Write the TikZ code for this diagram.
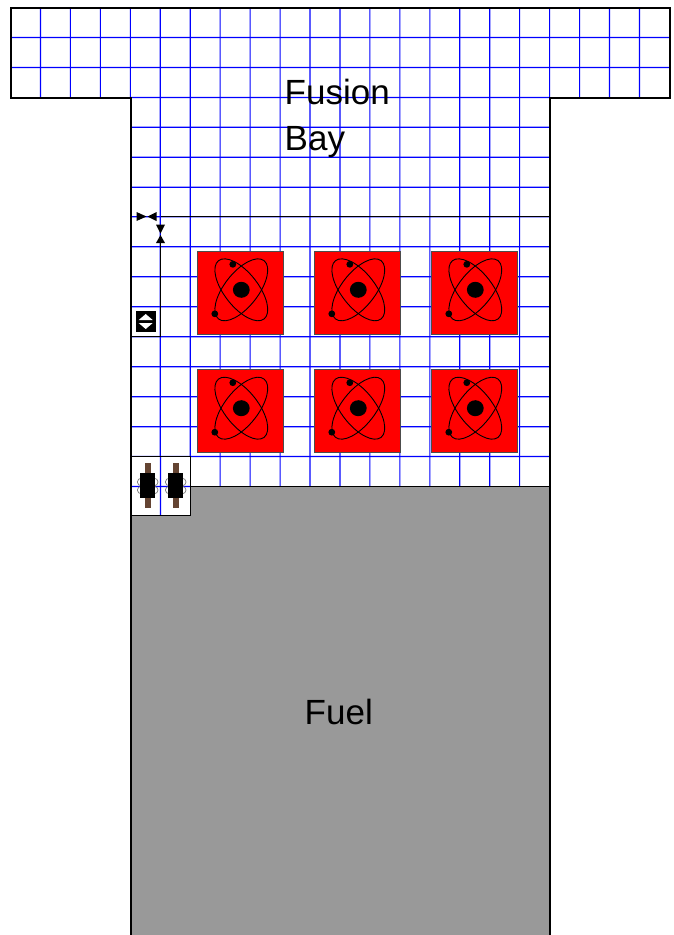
\documentclass[tikz,border=0pt]{standalone}
\usepackage{fontspec}
\setmainfont{Liberation Sans}
\definecolor{gridblue}{RGB}{0,0,255}
\definecolor{fuelgray}{RGB}{153,153,153}
\definecolor{rod}{RGB}{100,68,50}
\definecolor{coil}{RGB}{120,120,120}
\tikzset{
  gridline/.style={gridblue,line width=1.1pt},
  wall/.style={black,line width=2pt},
  thin wall/.style={black,line width=1.1pt},
  label text/.style={font=\fontsize{35}{46}\selectfont,inner sep=0pt,anchor=base west,align=left},
  reactor box/.style={fill=red,draw=black!70,line width=0.8pt},
  orbit/.style={draw=black,line width=0.9pt},
  tip/.style={fill=black,draw=none},
}
\newcommand{\atomcell}[3]{%
  \begin{scope}[shift={(#1,#2)}]
    \node[reactor box,minimum width=86pt,minimum height=83pt,inner sep=0pt,anchor=north west] (#3) at (0,0) {};
    \draw[orbit] (44,39) ellipse[x radius=37,y radius=17,rotate=52];
    \draw[orbit] (44,39) ellipse[x radius=37,y radius=17,rotate=-52];
    \fill (44,39) ellipse[x radius=8.4,y radius=8];
    \fill (35.5,13.5) circle[radius=3.4];
    \fill (17.5,63) circle[radius=3.4];
  \end{scope}}
\newcommand{\pump}[1]{%
  \begin{scope}[shift={(#1,0)}]
    \draw[coil,line width=0.7pt] (-6.5,482) circle[radius=3.8] (-6.5,490) circle[radius=3.8] (6.5,482) circle[radius=3.8] (6.5,490) circle[radius=3.8];
    \fill[rod] (-3,463) rectangle (3,508);
    \fill[black] (-7.3,473) rectangle (7.3,498);
  \end{scope}}
\begin{document}
\begin{tikzpicture}[x=1pt,y=-1pt]
\useasboundingbox (0,0) rectangle (674,935);
\fill[white] (0,0) rectangle (674,935);
% blue grid (a hair off axis so that the lines keep their true positions)
\foreach \i in {1,...,21}{\pgfmathsetmacro{\gx}{10.5+29.95*\i}\pgfmathsetmacro{\hx}{\gx+0.03}\draw[gridline] (\gx,7.5) -- (\hx,486.5);}
\foreach \y in {37.5,67.5}{\pgfmathsetmacro{\hy}{\y+0.03}\draw[gridline] (10.5,\y) -- (669.5,\hy);}
\foreach \y in {97.5,127.2,157.2,187.2,216.7,246.7,276.7,306.7,336.7,366.7,396.7,426.7,456.5}{\pgfmathsetmacro{\hy}{\y+0.03}\draw[gridline] (130.5,\y) -- (549.5,\hy);}
% clear outside the hull
\fill[white] (0,98) rectangle (130.5,487);
\fill[white] (549.5,98) rectangle (674,487);
% fuel
\fill[fuelgray] (130.5,515.5) -- (190.5,515.5) -- (190.5,486.5) -- (549.5,486.5) -- (549.5,936) -- (130.5,936) -- cycle;
% engine cells
\fill[white] (130.5,456.5) rectangle (190.5,515.5);
\draw[gridline] (160.5,456.5) -- (160.53,515.5);
\draw[gridline] (130.5,486.5) -- (190.5,486.53);
\draw[thin wall] (130.5,456.5) -- (190.5,456.5) -- (190.5,515.5) -- (130.5,515.5);
\draw[thin wall] (190.5,486.5) -- (549.5,486.5);
% hull
\draw[wall] (130.5,936) -- (130.5,97.5) -- (10.5,97.5) -- (10.5,7.5) -- (669.5,7.5) -- (669.5,97.5) -- (549.5,97.5) -- (549.5,936);
% inner wall
\draw[thin wall] (160.5,216.5) -- (549.5,216.5);
\draw[thin wall] (160.5,243) -- (160.5,336.5) -- (130.5,336.5);
% doors
\fill[tip] (136.5,212) -- (146.5,216.5) -- (136.5,221) -- cycle;
\fill[tip] (156.5,212) -- (147.5,216.5) -- (156.5,221) -- cycle;
\fill[tip] (156,224.5) -- (165,224.5) -- (160.5,233.5) -- cycle;
\fill[tip] (156,243) -- (165,243) -- (160.5,235) -- cycle;
% lift
\fill[black] (135.5,311) rectangle (156,332);
\fill[white] (145.7,314) -- (152.7,320) -- (138.7,320) -- cycle;
\fill[white] (145.7,329) -- (152.7,323) -- (138.7,323) -- cycle;
% reactors
\atomcell{197.3}{250.8}{r1}
\atomcell{314.3}{250.8}{r2}
\atomcell{431.3}{250.8}{r3}
\atomcell{197.3}{369.2}{r4}
\atomcell{314.3}{369.2}{r5}
\atomcell{431.3}{369.2}{r6}
% engines
\pump{147.7}
\pump{175.7}
% labels
\node[label text] (bay) at (284.5,150.5) {Fusion\\Bay};
\node[label text] (fuel) at (304.5,724) {Fuel};
\end{tikzpicture}
\end{document}
